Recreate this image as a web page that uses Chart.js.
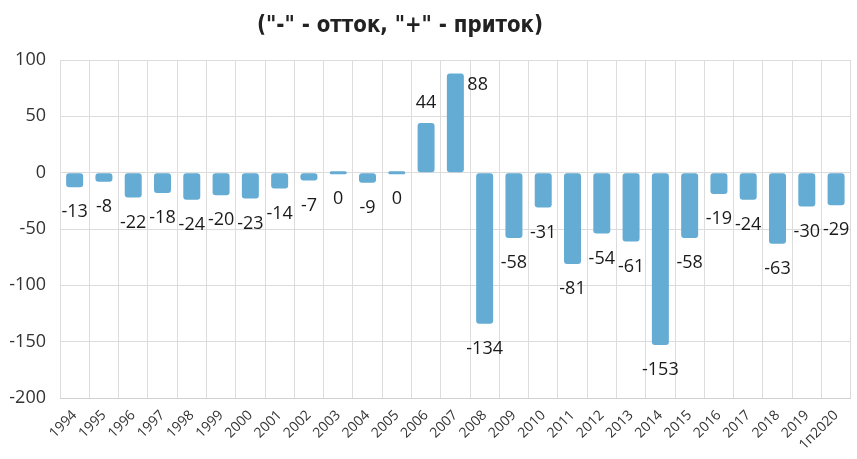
<!DOCTYPE html>
<html>
<head>
<meta charset="utf-8">
<script src="https://cdn.jsdelivr.net/npm/chart.js@4"></script>
<style>
  html, body { margin: 0; padding: 0; background: #fff; }
  #wrap { width: 857px; height: 459px; }
</style>
</head>
<body>
<div id="wrap"><canvas id="flowChart" width="857" height="459"></canvas></div>
<script>
// chart data
const years = ['1994', '1995', '1996', '1997', '1998', '1999', '2000', '2001', '2002', '2003',
    '2004', '2005', '2006', '2007', '2008', '2009', '2010', '2011', '2012', '2013',
    '2014', '2015', '2016', '2017', '2018', '2019', '1п2020'];
const flows = [-13, -8, -22, -18, -24, -20, -23, -14, -7, 0,
    -9, 0, 44, 88, -134, -58, -31, -81, -54, -61,
    -153, -58, -19, -24, -63, -30, -29];
const yTicks = [100, 50, 0, -50, -100, -150, -200];
const titleText = '("-" - отток, "+" - приток)';

// value labels under / above the bars
const valueLabels = {
    id: 'valueLabels',
    afterDatasetsDraw(chart) {
        const ctx = chart.ctx;
        const meta = chart.getDatasetMeta(0);
        const area = chart.chartArea;
        ctx.save();
        ctx.font = '18px "Open Sans", sans-serif';
        ctx.fillStyle = '#1a1a1a';
        ctx.textBaseline = 'middle';
        meta.data.forEach((bar, i) => {
            const v = flows[i];
            const txt = String(v);
            let x = bar.x, y;
            ctx.textAlign = 'center';
            if (v > 0) {
                y = bar.y - 20;
                if (y - 10 < area.top) {
                    // no room above, put it on the right of the bar
                    ctx.textAlign = 'left';
                    x = bar.x + 12;
                    y = bar.y + 11;
                }
            } else {
                y = Math.max(bar.y, bar.base) + 25;
            }
            ctx.fillText(txt, x, y);
        });
        ctx.restore();
    }
};

// title drawn a bit left of centre like in the source
const titlePlugin = {
    id: 'titlePlugin',
    afterDraw(chart) {
        const ctx = chart.ctx;
        ctx.save();
        ctx.translate(400, 26);
        ctx.scale(0.86, 1); // narrow it, the source font is condensed
        ctx.font = 'bold 23px "DejaVu Sans", sans-serif';
        ctx.fillStyle = '#222';
        ctx.textAlign = 'center';
        ctx.textBaseline = 'middle';
        ctx.fillText(titleText, 0, 0);
        ctx.restore();
    }
};

const ctx = document.getElementById('flowChart').getContext('2d');
new Chart(ctx, {
    type: 'bar',
    data: {
        labels: years,
        datasets: [{
            data: flows,
            backgroundColor: '#64acd3',
            borderWidth: 0,
            borderRadius: 3,
            borderSkipped: false,
            minBarLength: 3,
            categoryPercentage: 1,
            barPercentage: 0.58
        }]
    },
    options: {
        responsive: false,
        animation: false,
        layout: {
            padding: { top: 60, right: 2, left: 0, bottom: 0 }
        },
        scales: {
            x: {
                grid: { color: '#dcdcdc', offset: true, drawTicks: false },
                border: { color: '#d0d0d0' },
                ticks: {
                    color: '#333',
                    font: { size: 14, family: '"Open Sans", sans-serif' },
                    minRotation: 45,
                    maxRotation: 45,
                    autoSkip: false,
                    padding: 9
                },
                afterFit(scale) { scale.height = 61; }
            },
            y: {
                min: -200,
                max: 100,
                afterBuildTicks(scale) {
                    scale.ticks = yTicks.map(v => ({ value: v }));
                },
                grid: { color: '#dcdcdc', drawTicks: false },
                border: { display: false },
                ticks: {
                    color: '#333',
                    font: { size: 18, family: '"Open Sans", sans-serif' },
                    padding: 14
                },
                afterFit(scale) { scale.width = 60; }
            }
        },
        plugins: {
            legend: { display: false },
            tooltip: { enabled: false },
            title: { display: false }
        }
    },
    plugins: [valueLabels, titlePlugin]
});
</script>
</body>
</html>
